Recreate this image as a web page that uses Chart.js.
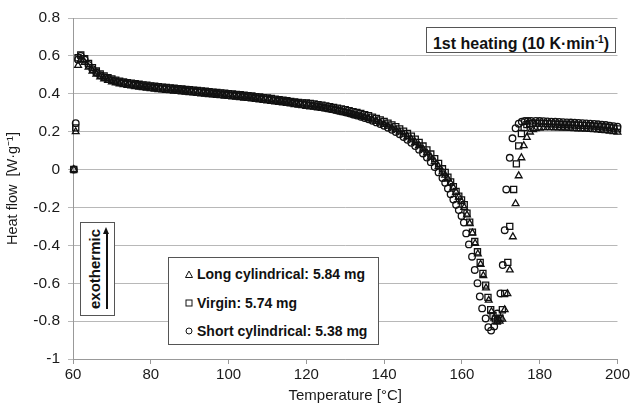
<!DOCTYPE html>
<html>
<head>
<meta charset="utf-8">
<script src="https://cdn.jsdelivr.net/npm/chart.js@4.4.0/dist/chart.umd.min.js"></script>
<style>
  body { margin: 0; background: #fff; font-family: "Liberation Sans", Arial, sans-serif; }
  #wrap { position: relative; width: 632px; height: 407px; }
  .box { position: absolute; background: #fff; border: 1px solid #555; box-sizing: border-box; color: #111; font-weight: bold; font-size: 14px; }
  #legend .row { position: absolute; left: 16px; height: 18px; line-height: 18px; white-space: nowrap; font-size: 14px; }
  #legend svg { vertical-align: middle; margin-right: 4px; position: relative; top: -1px; }
  #exo span { position: absolute; left: 50%; top: 50%; transform: translate(-50%, -50%) rotate(-90deg); white-space: nowrap; font-size: 15px; }
</style>
</head>
<body>
<div id="wrap">
  <canvas id="chart" width="632" height="407"></canvas>
  <div class="box" style="left:426px; top:27px; width:190px; height:26px; line-height:24px; text-align:center; font-size:16px;">1st heating (10 K·min<sup style="font-size:10px">-1</sup>)</div>
  <div class="box" id="exo" style="left:80px; top:222px; width:35px; height:94px;">
    <span style="margin-left:-4px">exothermic</span>
    <div style="position:absolute; left:25px; top:9px; width:1.5px; height:77px; background:#111;"></div>
    <div style="position:absolute; left:22px; top:4px; width:0; height:0; border-left:3.5px solid transparent; border-right:3.5px solid transparent; border-bottom:7px solid #111;"></div>
  </div>
  <div class="box" id="legend" style="left:168px; top:257px; width:211px; height:88px;">
    <div class="row" style="top:7px"><svg width="8" height="8"><polygon points="4,1 7.5,7.5 0.5,7.5" fill="none" stroke="#111" stroke-width="1"/></svg>Long cylindrical: 5.84 mg</div>
    <div class="row" style="top:36px"><svg width="8" height="8"><rect x="1" y="1" width="6" height="6" fill="none" stroke="#111" stroke-width="1"/></svg>Virgin: 5.74 mg</div>
    <div class="row" style="top:64px"><svg width="8" height="8"><circle cx="4" cy="4" r="3" fill="none" stroke="#111" stroke-width="1"/></svg>Short cylindrical: 5.38 mg</div>
  </div>
</div>
<script>
// shared temperatures for the baseline part (°C)
const baseTemps = [60.2, 60.7, 61.3, 62,
  63, 64, 65, 66, 67, 68, 69, 70, 71, 72,
  73, 74, 75, 76, 77, 78, 79, 80, 81, 82,
  83, 84, 85, 86, 87, 88, 89, 90, 91, 92,
  93, 94, 95, 96, 97, 98, 99, 100, 101, 102,
  103, 104, 105, 106, 107, 108, 109, 110, 111, 112,
  113, 114, 115, 116, 117, 118, 119, 120, 121, 122,
  123, 124, 125, 126, 127, 128, 129, 130, 131, 132,
  133, 134, 135, 136, 137, 138, 139, 140, 141, 142,
  143, 144, 145, 146, 147, 148, 149, 150, 151, 152,
  153, 154, 155];

const longBase = [0, 0.2, 0.55, 0.58,
  0.565, 0.54, 0.52, 0.503, 0.489, 0.478, 0.47, 0.463, 0.457, 0.452,
  0.448, 0.444, 0.441, 0.438, 0.435, 0.432, 0.43, 0.427, 0.425, 0.422,
  0.42, 0.418, 0.416, 0.414, 0.412, 0.41, 0.408, 0.406, 0.404, 0.402,
  0.4, 0.398, 0.396, 0.394, 0.392, 0.39, 0.388, 0.386, 0.384, 0.382,
  0.38, 0.377, 0.375, 0.373, 0.37, 0.368, 0.365, 0.363, 0.36, 0.357,
  0.355, 0.352, 0.349, 0.346, 0.343, 0.34, 0.337, 0.334, 0.331, 0.329,
  0.326, 0.323, 0.32, 0.316, 0.312, 0.308, 0.304, 0.3, 0.295, 0.29,
  0.285, 0.28, 0.274, 0.268, 0.261, 0.254, 0.246, 0.238, 0.229, 0.22,
  0.21, 0.199, 0.187, 0.174, 0.16, 0.144, 0.127, 0.108, 0.088, 0.066,
  0.042, 0.016, -0.012];

const virginBase = [0, 0.22, 0.59, 0.605,
  0.585, 0.56, 0.538, 0.52, 0.505, 0.494, 0.485, 0.478, 0.472, 0.467,
  0.463, 0.459, 0.456, 0.453, 0.45, 0.447, 0.445, 0.442, 0.44, 0.437,
  0.435, 0.433, 0.431, 0.429, 0.427, 0.425, 0.423, 0.421, 0.419, 0.417,
  0.415, 0.413, 0.411, 0.409, 0.407, 0.405, 0.403, 0.401, 0.399, 0.397,
  0.395, 0.392, 0.39, 0.388, 0.385, 0.383, 0.38, 0.378, 0.375, 0.372,
  0.369, 0.366, 0.363, 0.36, 0.357, 0.354, 0.352, 0.351, 0.349, 0.346,
  0.343, 0.34, 0.336, 0.332, 0.328, 0.324, 0.32, 0.316, 0.311, 0.306,
  0.301, 0.296, 0.29, 0.284, 0.277, 0.27, 0.262, 0.254, 0.245, 0.236,
  0.226, 0.215, 0.203, 0.19, 0.176, 0.16, 0.143, 0.124, 0.104, 0.082,
  0.058, 0.032, 0.004];

const shortBase = [0, 0.245, 0.58, 0.6,
  0.58, 0.552, 0.53, 0.512, 0.498, 0.487, 0.478, 0.471, 0.465, 0.46,
  0.456, 0.452, 0.449, 0.446, 0.443, 0.44, 0.438, 0.435, 0.433, 0.43,
  0.428, 0.426, 0.424, 0.422, 0.42, 0.418, 0.416, 0.414, 0.412, 0.41,
  0.408, 0.406, 0.404, 0.402, 0.4, 0.398, 0.396, 0.394, 0.392, 0.39,
  0.388, 0.385, 0.383, 0.381, 0.378, 0.376, 0.373, 0.371, 0.368, 0.365,
  0.363, 0.36, 0.357, 0.354, 0.351, 0.348, 0.345, 0.342, 0.339, 0.336,
  0.333, 0.329, 0.325, 0.321, 0.317, 0.312, 0.307, 0.302, 0.297, 0.291,
  0.285, 0.279, 0.272, 0.265, 0.257, 0.249, 0.24, 0.231, 0.221, 0.21,
  0.198, 0.186, 0.172, 0.157, 0.141, 0.124, 0.105, 0.085, 0.063, 0.039,
  0.013, -0.015, -0.045];

// melting peak region, each sample has its own temperatures
const longPeakT = [155.7, 156.4, 157.1, 157.8, 158.5, 159.2, 159.9, 160.6, 161.3, 162,
  162.7, 163.4, 164.1, 164.8, 165.5, 166.2, 166.9, 167.6, 168.3, 169,
  169.7, 170.4, 171, 171.7, 172.3, 173.1, 173.8, 174.6, 175.3, 175.9,
  176.7, 177.5, 178.3];
const longPeakV = [-0.03, -0.05, -0.072, -0.096, -0.12, -0.145, -0.17, -0.2, -0.24, -0.285,
  -0.335, -0.39, -0.445, -0.5, -0.56, -0.625, -0.69, -0.75, -0.785, -0.805,
  -0.8, -0.79, -0.74, -0.655, -0.53, -0.355, -0.18, -0.033, 0.062, 0.126,
  0.17, 0.198, 0.21];

const virginPeakT = [155.7, 156.4, 157.1, 157.8, 158.5, 159.2, 159.9, 160.6, 161.3, 162,
  162.7, 163.3, 164, 164.7, 165.4, 166.1, 166.7, 167.4, 168, 168.6,
  169.2, 169.8, 170.4, 171, 171.8, 172.3, 173.3, 174, 174.6, 175.3,
  176, 176.7, 177.4, 178.1];
const virginPeakV = [-0.015, -0.04, -0.065, -0.09, -0.115, -0.14, -0.16, -0.185, -0.23, -0.278,
  -0.33, -0.38, -0.434, -0.49, -0.548, -0.61, -0.675, -0.74, -0.772, -0.788,
  -0.795, -0.785, -0.74, -0.654, -0.49, -0.3, -0.105, 0.03, 0.125, 0.19,
  0.222, 0.237, 0.243, 0.245];

const shortPeakT = [155.7, 156.4, 157.1, 157.8, 158.5, 159.2, 159.9, 160.5, 161.1, 161.8,
  162.6, 163.3, 164, 164.6, 165.2, 166.1, 166.8, 167.5, 168.3, 169.1,
  169.9, 170.5, 171, 171.4, 172.3, 173, 173.8, 174.6, 175.4, 176.2,
  177, 177.8];
const shortPeakV = [-0.07, -0.1, -0.13, -0.158, -0.186, -0.214, -0.245, -0.28, -0.337, -0.395,
  -0.46, -0.53, -0.6, -0.67, -0.733, -0.786, -0.832, -0.85, -0.828, -0.76,
  -0.654, -0.504, -0.32, -0.105, 0.062, 0.165, 0.218, 0.242, 0.252, 0.256,
  0.257, 0.257];

// after the peak
const tailTemps = [179, 180, 181, 182, 183, 184, 185, 186, 187, 188,
  189, 190, 191, 192, 193, 194, 195, 196, 197, 198, 199, 200];
const longTail = [0.216, 0.219, 0.221, 0.221, 0.221, 0.22, 0.22, 0.219, 0.218, 0.217,
  0.216, 0.215, 0.214, 0.213, 0.212, 0.21, 0.209, 0.207, 0.205, 0.203, 0.2, 0.197];
const virginTail = [0.245, 0.244, 0.243, 0.242, 0.241, 0.24, 0.239, 0.238, 0.237, 0.236,
  0.235, 0.234, 0.233, 0.232, 0.231, 0.229, 0.228, 0.226, 0.224, 0.222, 0.219, 0.215];
const shortTail = [0.257, 0.256, 0.255, 0.254, 0.253, 0.252, 0.251, 0.25, 0.249, 0.248,
  0.247, 0.246, 0.245, 0.244, 0.242, 0.241, 0.239, 0.237, 0.235, 0.232, 0.229, 0.226];

const xTicks = [60, 80, 100, 120, 140, 160, 180, 200];

function toPoints(temps, values) {
  return temps.map((t, i) => ({ x: t, y: values[i] }));
}

function series(base, peakT, peakV, tail) {
  return toPoints(baseTemps, base)
    .concat(toPoints(peakT, peakV))
    .concat(toPoints(tailTemps, tail));
}

const markerColor = '#111';

const ctx = document.getElementById('chart').getContext('2d');
new Chart(ctx, {
  type: 'scatter',
  data: {
    datasets: [{
      label: 'Short cylindrical: 5.38 mg',
      data: series(shortBase, shortPeakT, shortPeakV, shortTail),
      pointStyle: 'circle',
      pointRadius: 3.3,
      borderColor: markerColor,
      backgroundColor: 'rgba(0,0,0,0)',
      borderWidth: 1.3,
      clip: false
    }, {
      label: 'Virgin: 5.74 mg',
      data: series(virginBase, virginPeakT, virginPeakV, virginTail),
      pointStyle: 'rect',
      pointRadius: 4.3,
      borderColor: markerColor,
      backgroundColor: 'rgba(0,0,0,0)',
      borderWidth: 1.3,
      clip: false
    }, {
      label: 'Long cylindrical: 5.84 mg',
      data: series(longBase, longPeakT, longPeakV, longTail),
      pointStyle: 'triangle',
      pointRadius: 3.9,
      borderColor: markerColor,
      backgroundColor: 'rgba(0,0,0,0)',
      borderWidth: 1.3,
      clip: false
    }]
  },
  options: {
    responsive: false,
    animation: false,
    events: [],
    layout: {
      autoPadding: false,
      padding: { top: 18, right: 14, left: 0, bottom: 0 }
    },
    plugins: {
      legend: { display: false },
      tooltip: { enabled: false }
    },
    scales: {
      x: {
        type: 'linear',
        min: 60,
        max: 200,
        afterFit: function(scale) { scale.height = 48; },
        afterBuildTicks: function(scale) { scale.ticks = xTicks.map(v => ({ value: v })); },
        ticks: {
          color: '#1a1a1a',
          font: { family: 'Liberation Sans', size: 15 },
          padding: 2,
          maxRotation: 0
        },
        grid: { drawOnChartArea: false, color: '#999', tickLength: 5 },
        border: { color: '#999' },
        title: {
          display: true,
          text: 'Temperature [°C]',
          color: '#1a1a1a',
          font: { family: 'Liberation Sans', size: 15 },
          padding: { top: 0, bottom: 2 }
        }
      },
      y: {
        min: -1,
        max: 0.8,
        afterFit: function(scale) { scale.width = 73; },
        ticks: {
          stepSize: 0.2,
          color: '#1a1a1a',
          font: { family: 'Liberation Sans', size: 15.5 },
          padding: 8,
          callback: function(value) { return String(Number(value.toFixed(1))); }
        },
        grid: { color: '#b8b8b8', tickLength: 5 },
        border: { color: '#999' },
        title: {
          display: true,
          text: 'Heat flow  [W·g⁻¹]',
          color: '#1a1a1a',
          font: { family: 'Liberation Sans', size: 14.5 },
          padding: { top: 4, bottom: 4 }
        }
      }
    }
  }
});
</script>
</body>
</html>
